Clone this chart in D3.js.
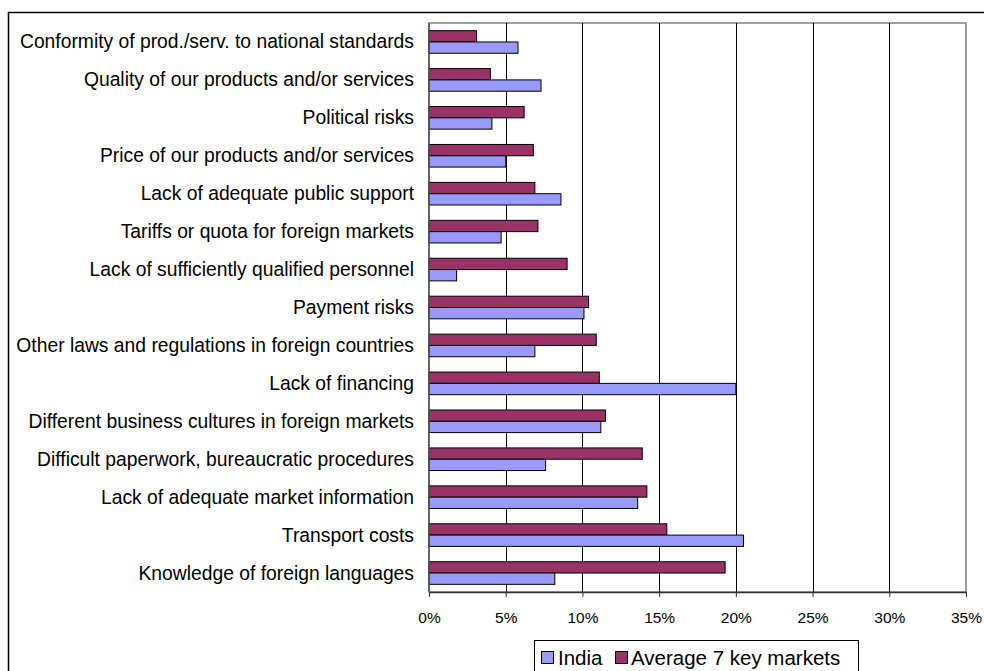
<!DOCTYPE html>
<html>
<head>
<meta charset="utf-8">
<script src="https://cdn.jsdelivr.net/npm/d3@7"></script>
<style>
  html, body { margin: 0; padding: 0; background: #fff; }
  svg { display: block; font-family: "Liberation Sans", Arial, sans-serif; }
</style>
</head>
<body>
<svg id="chart" width="984" height="671"></svg>
<script>
const categories = [
  "Conformity of prod./serv. to national standards",
  "Quality of our products and/or services",
  "Political risks",
  "Price of our products and/or services",
  "Lack of adequate public support",
  "Tariffs or quota for foreign markets",
  "Lack of sufficiently qualified personnel",
  "Payment risks",
  "Other laws and regulations in foreign countries",
  "Lack of financing",
  "Different business cultures in foreign markets",
  "Difficult paperwork, bureaucratic procedures",
  "Lack of adequate market information",
  "Transport costs",
  "Knowledge of foreign languages"
];
const india = [5.8, 7.3, 4.1, 5.0, 8.6, 4.7, 1.8, 10.1, 6.9, 20.0, 11.2, 7.6, 13.6, 20.5, 8.2];
const average7 = [3.1, 4.0, 6.2, 6.8, 6.9, 7.1, 9.0, 10.4, 10.9, 11.1, 11.5, 13.9, 14.2, 15.5, 19.3];
const xTicks = [0, 5, 10, 15, 20, 25, 30, 35];
const seriesNames = ["India", "Average 7 key markets"];
const seriesColors = ["#9999FF", "#993366"];

const svg = d3.select("#chart");

// outer chart frame
svg.append("rect")
  .attr("x", 8.5).attr("y", 12.5)
  .attr("width", 1000).attr("height", 700)
  .attr("fill", "#fff").attr("stroke", "#000").attr("stroke-width", 1.5);

const x = d3.scaleLinear().domain([0, 35]).range([429, 966]);
const y = d3.scaleBand().domain(categories).range([23, 592]).padding(0);
const barH = y.bandwidth() * 0.298;

// plot area border (top/right gray)
svg.append("rect")
  .attr("x", x(0)).attr("y", 23)
  .attr("width", x(35) - x(0)).attr("height", 592 - 23)
  .attr("fill", "none").attr("stroke", "#808080").attr("stroke-width", 1.5);

// gridlines
svg.append("g").selectAll("line")
  .data(xTicks.filter(t => t > 0 && t < 35))
  .join("line")
  .attr("x1", d => Math.round(x(d)) + 0.5).attr("x2", d => Math.round(x(d)) + 0.5)
  .attr("y1", 23).attr("y2", 592)
  .attr("stroke", "#000").attr("stroke-width", 1);

// bars
const rows = categories.map((c, i) => ({ c, india: india[i], avg: average7[i] }));
const g = svg.append("g");
g.selectAll("rect.avg").data(rows).join("rect")
  .attr("class", "avg")
  .attr("x", x(0))
  .attr("y", d => y(d.c) + y.bandwidth() / 2 - barH)
  .attr("width", d => x(d.avg) - x(0))
  .attr("height", barH)
  .attr("fill", seriesColors[1]).attr("stroke", "#000").attr("stroke-width", 1);
g.selectAll("rect.ind").data(rows).join("rect")
  .attr("class", "ind")
  .attr("x", x(0))
  .attr("y", d => y(d.c) + y.bandwidth() / 2)
  .attr("width", d => x(d.india) - x(0))
  .attr("height", barH)
  .attr("fill", seriesColors[0]).attr("stroke", "#000").attr("stroke-width", 1);

// y axis line
svg.append("line")
  .attr("x1", x(0)).attr("x2", x(0)).attr("y1", 23).attr("y2", 592)
  .attr("stroke", "#555").attr("stroke-width", 1.5);

// category labels
svg.append("g").selectAll("text").data(categories).join("text")
  .attr("x", 414)
  .attr("y", d => y(d) + y.bandwidth() / 2 + 6.5)
  .attr("text-anchor", "end")
  .attr("font-size", 19.3)
  .attr("fill", "#000")
  .text(d => d);

// x axis
const xAxis = d3.axisBottom(x).tickValues(xTicks).tickFormat(d => d + "%").tickSize(5).tickSizeOuter(0);
const ax = svg.append("g").attr("transform", "translate(0,592)").call(xAxis);
ax.select(".domain").attr("stroke", "#333").attr("stroke-width", 1.5);
ax.selectAll(".tick line").attr("stroke", "#333");
ax.selectAll(".tick text")
  .attr("y", 30.5).attr("dy", 0)
  .attr("font-size", 15.5)
  .attr("font-family", "Liberation Sans, Arial, sans-serif")
  .attr("fill", "#000");

// legend
const leg = svg.append("g");
leg.append("rect")
  .attr("x", 534.5).attr("y", 640.5).attr("width", 324).attr("height", 60)
  .attr("fill", "#fff").attr("stroke", "#000").attr("stroke-width", 1);
const legItems = [
  { name: seriesNames[0], color: seriesColors[0], sx: 541, tx: 558 },
  { name: seriesNames[1], color: seriesColors[1], sx: 615, tx: 631 }
];
legItems.forEach(it => {
  leg.append("rect")
    .attr("x", it.sx + 0.5).attr("y", 651.5).attr("width", 12).attr("height", 12)
    .attr("fill", it.color).attr("stroke", "#000").attr("stroke-width", 1);
  leg.append("text")
    .attr("x", it.tx).attr("y", 665)
    .attr("font-size", 20.5)
    .attr("fill", "#000")
    .text(it.name);
});
</script>
</body>
</html>
